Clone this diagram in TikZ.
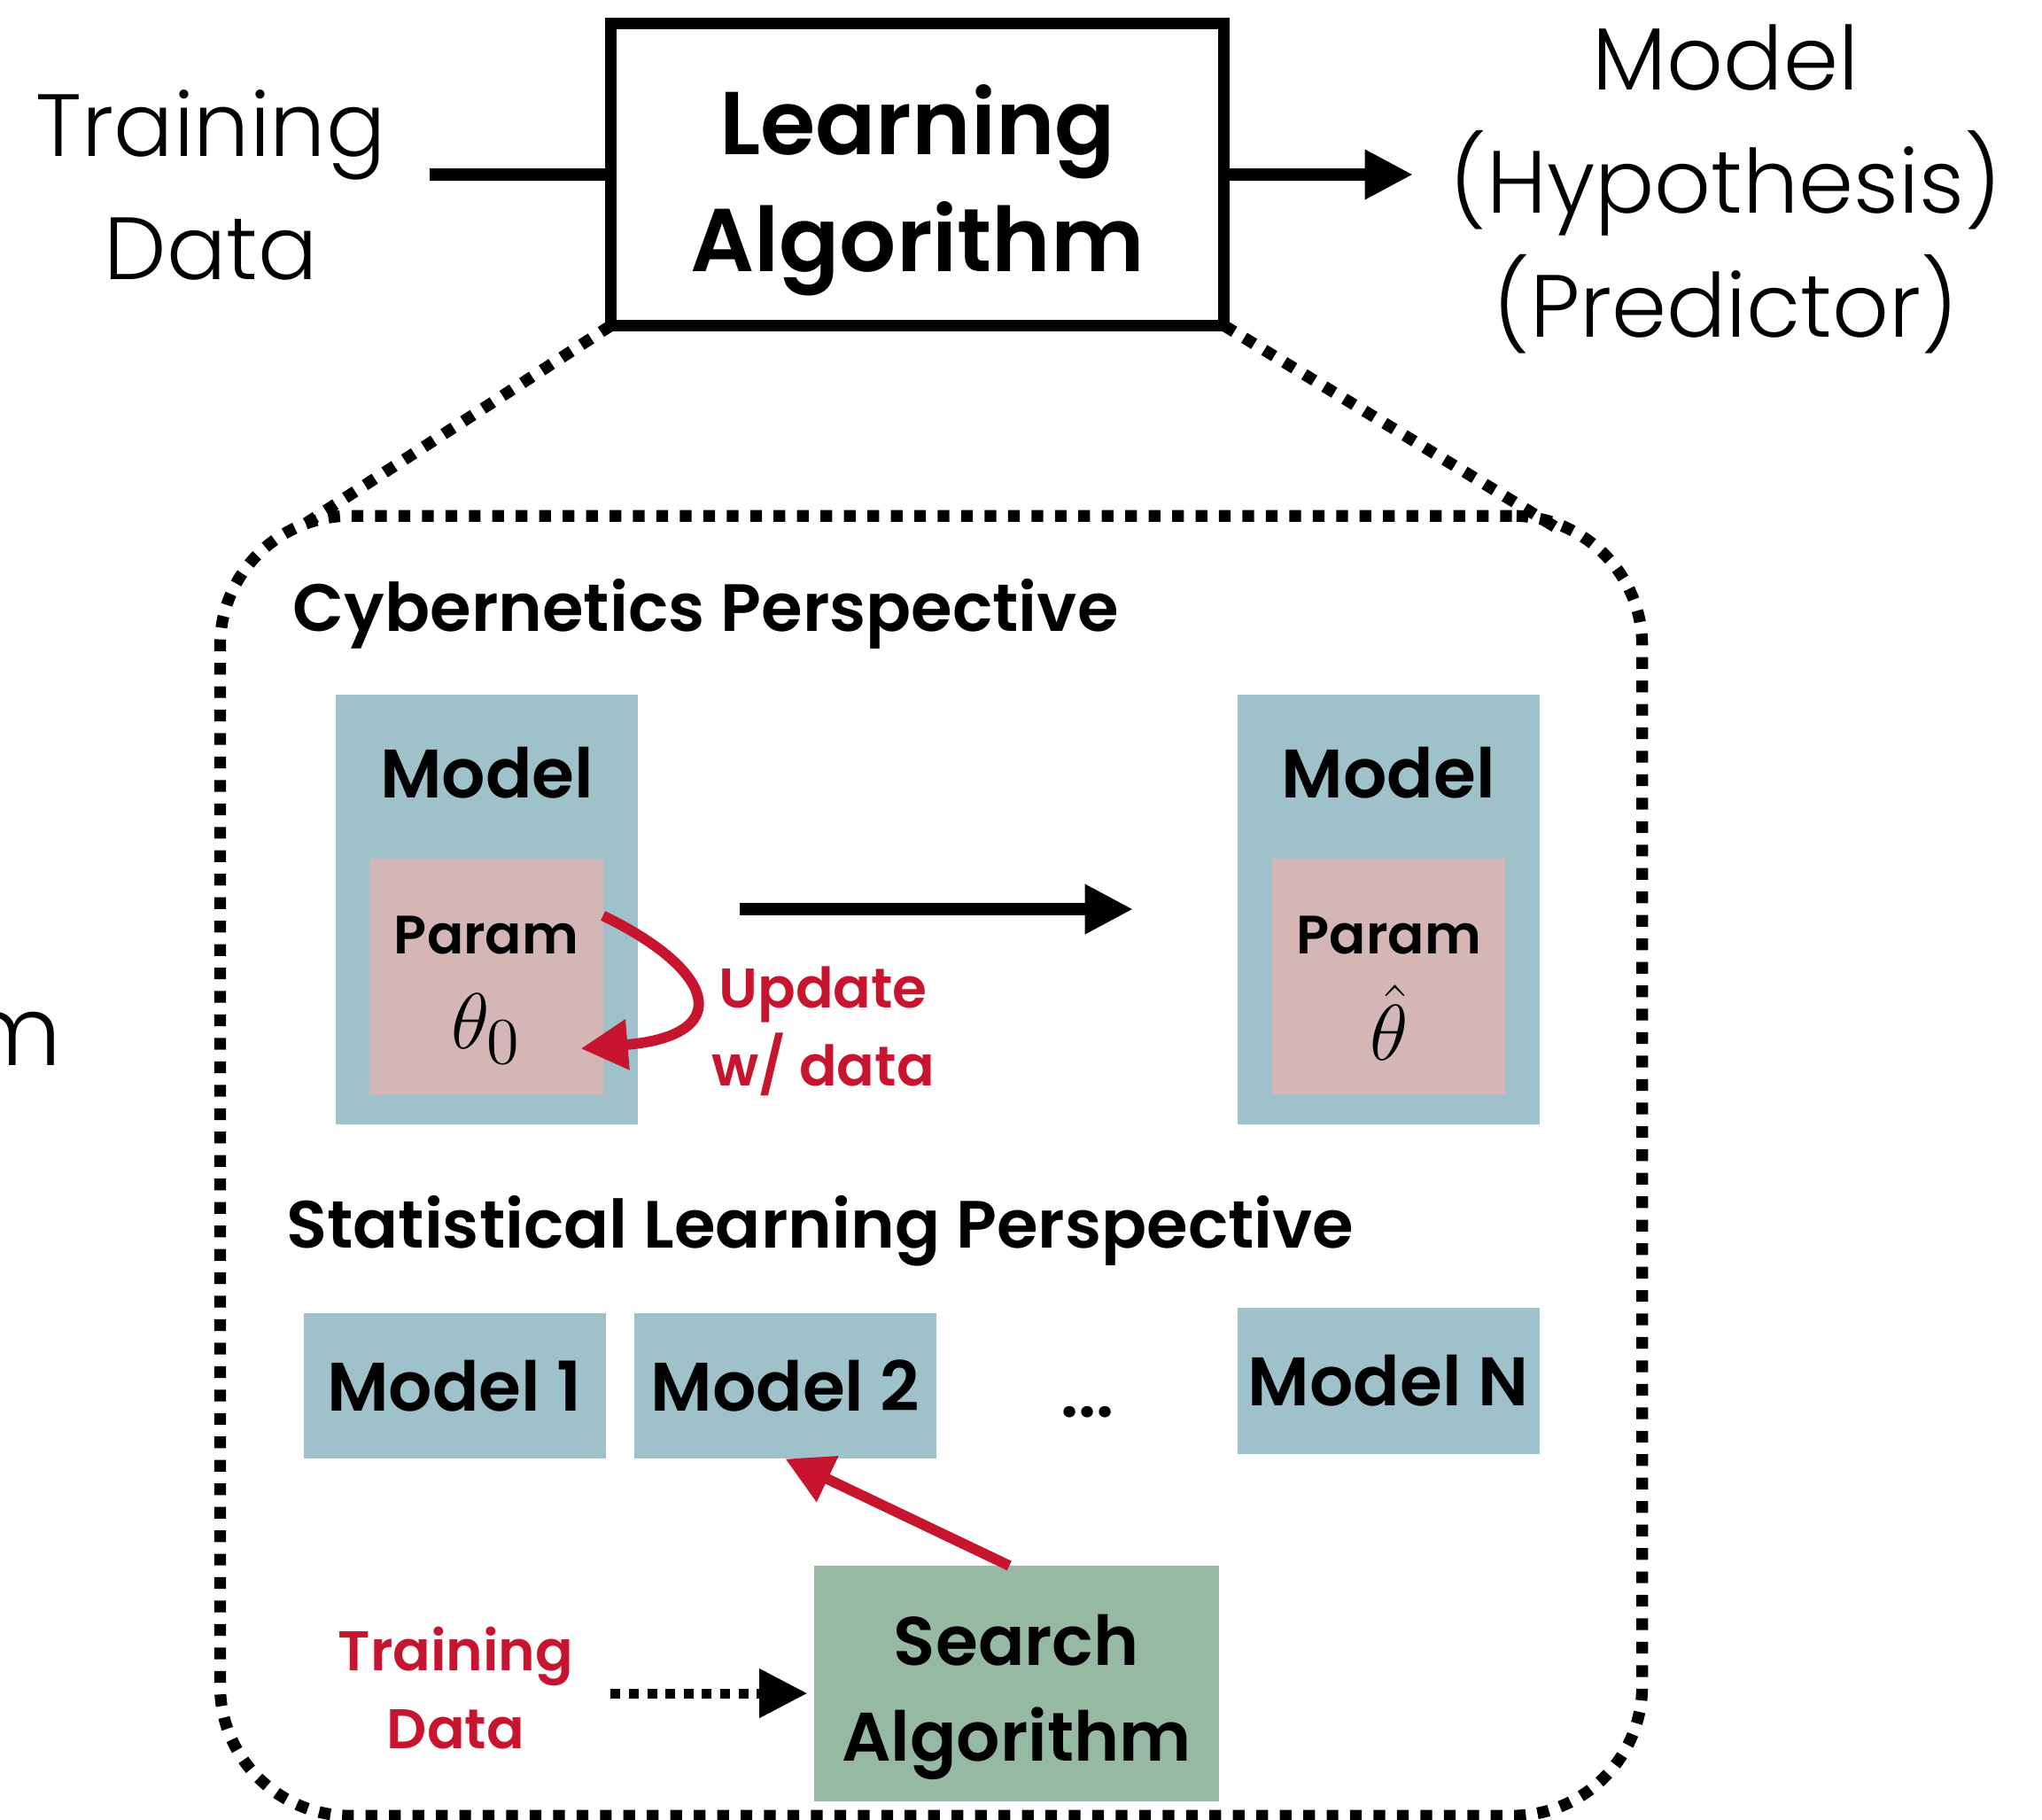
\documentclass[tikz,border=0pt]{standalone}
\usepackage{fontspec}
\setmainfont{Poppins}[BoldFont={Poppins SemiBold}]
\newfontfamily\lightfont{Poppins Light}
\usetikzlibrary{arrows.meta,positioning,calc}
\definecolor{modelblue}{HTML}{9FC2CA}
\definecolor{parampink}{HTML}{D5B6B7}
\definecolor{searchgreen}{HTML}{95B9A2}
\definecolor{updred}{HTML}{C8152F}

\begin{document}
\begin{tikzpicture}[
    every node/.style={
        inner sep=0pt, outer sep=0pt,
    },
    lighttxt/.style={font=\lightfont\fontsize{19.3}{27}\selectfont, align=center},
    bigbold/.style={font=\bfseries\fontsize{19.5}{25.6}\selectfont, align=center},
    headtxt/.style={font=\bfseries\fontsize{14.6}{20}\selectfont, anchor=west},
    boxtxt/.style={font=\bfseries\fontsize{15}{21}\selectfont, align=center},
    paramtxt/.style={font=\bfseries\fontsize{11.8}{17}\selectfont},
    mathtxt/.style={font=\fontsize{19}{22}\selectfont},
    redtxt/.style={text=updred, font=\bfseries\fontsize{12.2}{17}\selectfont, align=center},
    modelbox/.style={fill=modelblue, minimum width=2.32cm},
    parambox/.style={fill=parampink, minimum width=1.79cm, minimum height=1.81cm},
    thickarrow/.style={line width=0.09cm, -{Triangle[length=0.37cm,width=0.36cm]}},
    redarrow/.style={draw=updred, line width=0.08cm, -{Triangle[length=0.36cm,width=0.37cm]}},
    dotline/.style={line width=0.09cm, dash pattern=on 0.09cm off 0.09cm},
    dotarrow/.style={line width=0.075cm, dash pattern=on 0.075cm off 0.065cm, -{Triangle[length=0.37cm,width=0.36cm]}},
]
    \useasboundingbox (0,0) rectangle (15.68,-13.97);

    \node[draw, line width=0.09cm, minimum width=4.71cm, minimum height=2.32cm] (learn) at (7.045,-1.34) {};
    \node[bigbold] (learntxt) at (7.045,-1.46) {Learning\\Algorithm};
    \node[lighttxt] (train) at (1.62,-1.42) {Training\\Data};
    \node[lighttxt] (hyp) at (13.25,-1.45) {Model\\(Hypothesis)\\(Predictor)};
    \coordinate (trainout) at (3.30,-1.34);
    \coordinate (hypin) at (10.85,-1.34);
    \draw[line width=0.09cm] (trainout) -- (learn.west);
    \draw[thickarrow] (learn.east) -- (hypin);
    \node[lighttxt, font=\lightfont\fontsize{21}{27}\selectfont, anchor=base east] (cut) at (0.47,-8.18) {m};

    \node[draw, dotline, rounded corners=1cm, minimum width=10.92cm, minimum height=9.98cm] (frame) at (7.15,-8.95) {};
    \coordinate (frameL) at (2.30,-4.05);
    \coordinate (frameR) at (11.95,-4.05);
    \draw[dotline] (learn.south west) -- (frameL);
    \draw[dotline] (learn.south east) -- (frameR);

    \node[headtxt] (cyb) at (2.25,-4.71) {Cybernetics Perspective};
    \node[modelbox, minimum height=3.30cm] (modelA) at (3.74,-6.98) {};
    \node[parambox] (paramA) at (3.735,-7.495) {};
    \node[boxtxt] (modelAtxt) at (3.74,-5.93) {Model};
    \node[paramtxt] (paramAtxt) at (3.735,-7.18) {Param};
    \node[mathtxt] (thetaA) at (3.735,-7.90) {$\theta_0$};
    \node[modelbox, minimum height=3.30cm] (modelB) at (10.66,-6.98) {};
    \node[parambox] (paramB) at (10.665,-7.495) {};
    \node[boxtxt] (modelBtxt) at (10.66,-5.93) {Model};
    \node[paramtxt] (paramBtxt) at (10.665,-7.18) {Param};
    \node[mathtxt] (thetaB) at (10.665,-7.85) {$\hat{\theta}$};
    \draw[thickarrow, shorten <=0.78cm, shorten >=0.80cm] (modelA.east) -- (modelB.west);
    \draw[redarrow] ([yshift=0.465cm]paramA.east) .. controls ([xshift=0.87cm,yshift=0.045cm]paramA.east) and ([xshift=1.02cm,yshift=-0.455cm]paramA.east) .. ([xshift=-0.17cm,yshift=-0.555cm]paramA.east);
    \node[redtxt] (upd) at (6.32,-7.92) {Update\\w/ data};

    \node[headtxt] (stat) at (2.20,-9.45) {Statistical Learning Perspective};
    \node[modelbox, minimum height=1.12cm, boxtxt] (model1) at (3.49,-10.64) {Model 1};
    \node[modelbox, minimum height=1.12cm, boxtxt] (model2) at (6.03,-10.64) {Model 2};
    \node[boxtxt, anchor=base] (dots) at (8.35,-10.88) {...};
    \node[modelbox, minimum height=1.12cm, boxtxt] (modelN) at (10.66,-10.60) {Model N};
    \node[fill=searchgreen, minimum width=3.11cm, minimum height=1.81cm] (search) at (7.805,-12.925) {};
    \node[boxtxt] (searchtxt) at (7.805,-13.03) {Search\\Algorithm};
    \draw[redarrow] ([xshift=-0.055cm]search.north) -- (model2.south);
    \node[redtxt] (trainB) at (3.50,-12.96) {Training\\Data};
    \coordinate (dataout) at (4.69,-13.00);
    \draw[dotarrow, shorten >=0.05cm] (dataout) -- (search.west |- dataout);
\end{tikzpicture}
\end{document}
